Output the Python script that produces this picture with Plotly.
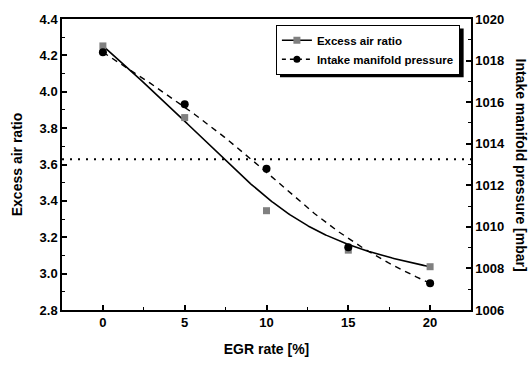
import numpy as np
import plotly.graph_objects as go

egr = [0, 5, 10, 15, 20]
excess_air = [4.252, 3.858, 3.346, 3.129, 3.038]
pressure = [1018.40, 1015.90, 1012.79, 1009.02, 1007.29]
atm_pressure = 1013.25


def bspline(xc, yc, degree=3, n=300):
    """Clamped uniform B-spline using the data points as control points."""
    P = np.column_stack([xc, yc]).astype(float)
    m = len(P)
    k = degree
    inner = np.linspace(0, 1, m - k + 1)
    knots = np.concatenate([np.zeros(k), inner, np.ones(k)])
    ts = np.linspace(0, 1, n)
    out = []
    for t in ts:
        if t >= 1.0:
            s = m - 1
        else:
            s = np.searchsorted(knots, t, side="right") - 1
        d = [P[j + s - k].copy() for j in range(k + 1)]
        for r in range(1, k + 1):
            for j in range(k, r - 1, -1):
                i = j + s - k
                denom = knots[i + k - r + 1] - knots[i]
                a = 0.0 if denom == 0 else (t - knots[i]) / denom
                d[j] = (1 - a) * d[j - 1] + a * d[j]
        out.append(d[k])
    out = np.array(out)
    return out[:, 0], out[:, 1]


bx_air, by_air = bspline(egr, excess_air)
bx_p, by_p = bspline(egr, pressure)

FONT = "Liberation Sans"
BOLD = 700

fig = go.Figure()
fig.add_trace(go.Scatter(x=bx_air, y=by_air, mode="lines", line=dict(color="black", width=1.6),
                         showlegend=False, hoverinfo="skip"))
fig.add_trace(go.Scatter(x=egr, y=excess_air, mode="markers",
                         marker=dict(symbol="square", size=7, color="#808080"), showlegend=False))
fig.add_trace(go.Scatter(x=bx_p, y=by_p, mode="lines", yaxis="y2",
                         line=dict(color="black", width=1.4, dash="6px,5px"),
                         showlegend=False, hoverinfo="skip"))
fig.add_trace(go.Scatter(x=egr, y=pressure, mode="markers", yaxis="y2",
                         marker=dict(symbol="circle", size=8, color="black"), showlegend=False))
# legend entries
fig.add_trace(go.Scatter(x=[None], y=[None], mode="lines+markers", name="Excess air ratio",
                         line=dict(color="black", width=1.6),
                         marker=dict(symbol="square", size=7, color="#808080")))
fig.add_trace(go.Scatter(x=[None], y=[None], mode="lines+markers", name="Intake manifold pressure",
                         yaxis="y2", line=dict(color="black", width=1.4, dash="4px,4px"),
                         marker=dict(symbol="circle", size=7, color="black")))

axis_common = dict(showgrid=False, zeroline=False, showline=True, linecolor="black", linewidth=1.5,
                   ticks="inside", ticklen=5, tickwidth=1.5, tickcolor="black",
                   tickfont=dict(family=FONT, size=13, color="black", weight=BOLD))

fig.update_layout(
    width=530, height=367,
    margin=dict(l=62, r=59, t=12, b=52),
    paper_bgcolor="white", plot_bgcolor="white",
    font=dict(family=FONT, color="black"),
    xaxis=dict(range=[-2.5, 22.5], dtick=5, tick0=0, mirror=True,
               minor=dict(dtick=2.5, ticklen=3, tickwidth=1.2, tickcolor="black", ticks="inside"),
               title=dict(text="EGR rate [%]", font=dict(family=FONT, size=14, weight=BOLD), standoff=15),
               **axis_common),
    yaxis=dict(range=[2.8, 4.4], dtick=0.2, tick0=2.8, tickformat=".1f",
               minor=dict(dtick=0.1, ticklen=3, tickwidth=1.2, tickcolor="black", ticks="inside"),
               title=dict(text="Excess air ratio", font=dict(family=FONT, size=14, weight=BOLD), standoff=14),
               **axis_common),
    yaxis2=dict(range=[1006, 1020], dtick=2, tick0=1006, overlaying="y", side="right",
                minor=dict(dtick=1, ticklen=3, tickwidth=1.2, tickcolor="black", ticks="inside"),
                **axis_common),
    legend=dict(x=0.523, y=0.980, xanchor="left", yanchor="top", bgcolor="white",
                bordercolor="black", borderwidth=1,
                font=dict(family=FONT, size=11.5, color="black", weight=BOLD),
                tracegroupgap=0, itemwidth=30),
    shapes=[
        dict(type="line", xref="paper", x0=0, x1=1, yref="y2", y0=atm_pressure, y1=atm_pressure,
             line=dict(color="black", width=2, dash="2px,6px")),
        dict(type="rect", xref="paper", yref="paper", x0=0.533, x1=0.982, y0=0.80, y1=0.967,
             fillcolor="black", line=dict(width=0), layer="below"),
    ],
    annotations=[
        dict(text="Intake manifold pressure [mbar]", xref="paper", yref="paper", x=1, y=0.5,
             xshift=50, textangle=90, showarrow=False,
             font=dict(family=FONT, size=14, weight=BOLD, color="black"),
             xanchor="center", yanchor="middle"),
    ],
)

fig.write_html("out.html", config={"displayModeBar": False},
               post_script="document.body.style.margin='0';document.body.style.overflow='hidden';")
